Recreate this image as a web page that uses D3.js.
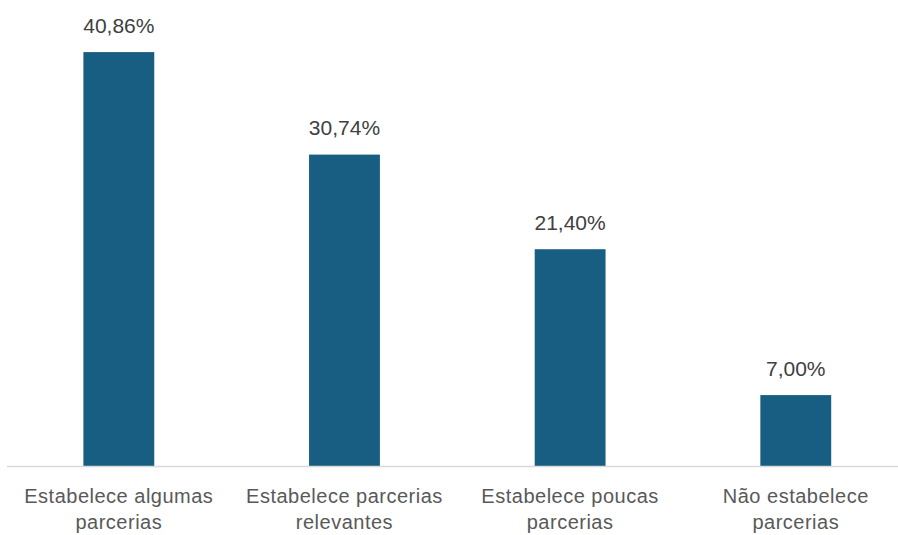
<!DOCTYPE html>
<html><head><meta charset="utf-8">
<script src="https://cdn.jsdelivr.net/npm/d3@7"></script>
<style>body{margin:0;background:#fff}svg{display:block}</style>
</head><body>
<svg id="c" width="898" height="535"></svg>
<script>
const categories = [["Estabelece algumas","parcerias"],["Estabelece parcerias","relevantes"],["Estabelece poucas","parcerias"],["Não estabelece","parcerias"]];
const values = [40.86, 30.74, 21.40, 7.00];
const valueLabels = ["40,86%","30,74%","21,40%","7,00%"];

const svg = d3.select("#c");
const x = d3.scaleBand().domain(d3.range(values.length)).range([6, 908.6]).paddingInner(0.686).paddingOuter(0.343);
const y = d3.scaleLinear().domain([0, 45]).range([466, 466 - 45*10.13]);

svg.selectAll("rect.bar").data(values).join("rect").attr("class","bar")
  .attr("x",(d,i)=>x(i)).attr("width",x.bandwidth())
  .attr("y",d=>y(d)).attr("height",d=>y(0)-y(d)).attr("fill","#175E82");

svg.append("line").attr("x1",7).attr("x2",898).attr("y1",466.5).attr("y2",466.5)
  .attr("stroke","#d9d9d9").attr("stroke-width",1.5);

svg.selectAll("text.val").data(values).join("text").attr("class","val")
  .attr("x",(d,i)=>x(i)+x.bandwidth()/2).attr("y",d=>y(d)-19.5)
  .attr("text-anchor","middle").attr("font-family","Liberation Sans, Arial, sans-serif")
  .attr("font-size",21).attr("fill","#404040").text((d,i)=>valueLabels[i]);

const cat = svg.selectAll("text.cat").data(categories).join("text").attr("class","cat")
  .attr("text-anchor","middle").attr("font-family","Liberation Sans, Arial, sans-serif")
  .attr("font-size",20).attr("fill","#595959").attr("letter-spacing","0.5px");
cat.each(function(d,i){
  const t=d3.select(this);
  d.forEach((line,j)=>t.append("tspan").attr("x",x(i)+x.bandwidth()/2).attr("y",502.7+j*26.5).text(line));
});
</script>
</body></html>
